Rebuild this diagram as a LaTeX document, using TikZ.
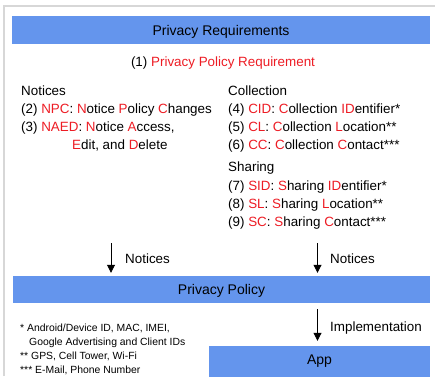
\documentclass[tikz,border=0pt]{standalone}
\usepackage{fontspec}
\setmainfont{Liberation Sans}
\usetikzlibrary{arrows.meta}
\definecolor{barblue}{RGB}{100,149,237}
\definecolor{hlred}{RGB}{237,28,36}
\definecolor{framegray}{RGB}{215,215,215}
\newcommand{\rd}[1]{\textcolor{hlred}{#1}}

\begin{document}
\begin{tikzpicture}[x=1pt,y=-1pt,
  bar/.style={fill=barblue, inner sep=0pt, text height=10pt, text depth=0pt,
    font=\fontsize{14}{16}\selectfont},
  txt/.style={anchor=base west, inner sep=0pt, font=\fontsize{13.4}{16}\selectfont},
  note/.style={anchor=base west, inner sep=0pt, font=\fontsize{10.4}{12}\selectfont},
  arr/.style={-{Triangle[length=8pt,width=8pt]}, line width=0.8pt}]
\useasboundingbox (0,0) rectangle (435,376);
\draw[framegray, line width=2pt] (4,376) -- (4,6) -- (435,6);

\node[bar, minimum width=418pt, minimum height=28pt](reqs) at (221,30){Privacy Requirements};
\node[txt, anchor=base](ppr) at (223,66){(1) \rd{Privacy Policy Requirement}};

\node[txt](n0) at (21,95.5){Notices};
\node[txt](n2) at (21,113.5){(2) \rd{NPC}: \rd{N}otice \rd{P}olicy \rd{C}hanges};
\node[txt](n3) at (21,131.5){(3) \rd{NAED}: \rd{N}otice \rd{A}ccess,};
\node[txt](n3b) at (72,149.5){\rd{E}dit, and \rd{D}elete};

\node[txt](c0) at (228,95.5){Collection};
\node[txt](c4) at (228,113.5){(4) \rd{CID}: \rd{C}ollection \rd{ID}entifier*};
\node[txt](c5) at (228,131.5){(5) \rd{CL}: \rd{C}ollection \rd{L}ocation**};
\node[txt](c6) at (228,149.5){(6) \rd{CC}: \rd{C}ollection \rd{C}ontact***};
\node[txt](s0) at (228,171.5){Sharing};
\node[txt](s7) at (228,190){(7) \rd{SID}: \rd{S}haring \rd{ID}entifier*};
\node[txt](s8) at (228,208.5){(8) \rd{SL}: \rd{S}haring \rd{L}ocation**};
\node[txt](s9) at (228,226.5){(9) \rd{SC}: \rd{S}haring \rd{C}ontact***};

\node[bar, minimum width=417pt, minimum height=27pt](pp) at (221.5,289.5){Privacy Policy};
\node[bar, minimum width=221pt, minimum height=34pt, text depth=8pt](app) at (319.5,363){App};

\coordinate (a1) at (111,243);
\coordinate (a2) at (317.5,243);
\coordinate (a3) at (317.5,309);
\draw[arr, shorten >=3pt] (a1) -- (a1 |- pp.north);
\draw[arr, shorten >=3pt] (a2) -- (a2 |- pp.north);
\draw[arr, shorten >=5pt] (a3) -- (a3 |- app.north);
\node[txt](l1) at (125,263){Notices};
\node[txt](l2) at (330,263){Notices};
\node[txt](l3) at (330,331){Implementation};

\node[note](f1) at (20,331.5){* Android/Device ID, MAC, IMEI,};
\node[note](f2) at (29,345){Google Advertising and Client IDs};
\node[note](f3) at (20,359){** GPS, Cell Tower, Wi-Fi};
\node[note](f4) at (20,373){*** E-Mail, Phone Number};
\end{tikzpicture}
\end{document}
